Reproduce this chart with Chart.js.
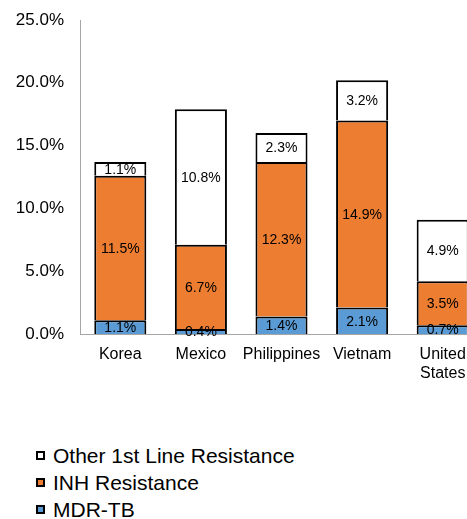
<!DOCTYPE html>
<html>
<head>
<meta charset="utf-8">
<script src="https://cdn.jsdelivr.net/npm/chart.js@4"></script>
<style>
  html, body { margin: 0; padding: 0; background: #fff; overflow: hidden; }
  #wrap { position: relative; width: 490px; height: 400px; }
  #legend { position: absolute; left: 36px; top: 442px; font-family: "Liberation Sans", Arial, sans-serif; font-size: 21px; color: #000; }
  .item { display: flex; align-items: center; height: 27px; white-space: nowrap; }
  .box { width: 5px; height: 5px; border: 2px solid #000; margin-right: 8px; }
</style>
</head>
<body>
<div id="wrap"><canvas id="chart" width="490" height="400"></canvas></div>
<div id="legend"></div>
<script>
// data
const countries = ['Korea', 'Mexico', 'Philippines', 'Vietnam', ['United', 'States']];
const mdrTB = [1.1, 0.4, 1.4, 2.1, 0.7];
const inhResistance = [11.5, 6.7, 12.3, 14.9, 3.5];
const otherFirstLine = [1.1, 10.8, 2.3, 3.2, 4.9];
const yTicks = [0, 5, 10, 15, 20, 25];

const FONT = '"Liberation Sans", Arial, sans-serif';

// value labels centred in each segment
const barLabels = {
  id: 'barLabels',
  afterDatasetsDraw(chart) {
    const ctx = chart.ctx;
    ctx.save();
    ctx.font = '14px ' + FONT;
    ctx.fillStyle = '#000';
    ctx.textAlign = 'center';
    ctx.textBaseline = 'middle';
    chart.data.datasets.forEach((ds, i) => {
      chart.getDatasetMeta(i).data.forEach((bar, j) => {
        const p = bar.getProps(['x', 'y', 'base'], true);
        ctx.fillText(ds.data[j].toFixed(1) + '%', p.x, (p.y + p.base) / 2 + 1);
      });
    });
    ctx.restore();
  }
};

const chart = new Chart(document.getElementById('chart'), {
  type: 'bar',
  data: {
    labels: countries,
    datasets: [
      { label: 'MDR-TB', data: mdrTB, backgroundColor: '#5B9BD5' },
      { label: 'INH Resistance', data: inhResistance, backgroundColor: '#ED7D31' },
      { label: 'Other 1st Line Resistance', data: otherFirstLine, backgroundColor: '#FFFFFF' }
    ].map(ds => Object.assign(ds, {
      borderColor: '#000',
      borderWidth: 2,
      borderSkipped: 'start',
      categoryPercentage: 1,
      barPercentage: 0.646
    }))
  },
  options: {
    responsive: false,
    animation: false,
    layout: { padding: { top: 20, right: 7, left: 0, bottom: 0 } },
    plugins: {
      legend: { display: false },
      tooltip: { enabled: false }
    },
    scales: {
      x: {
        stacked: true,
        grid: { display: false, drawTicks: false },
        border: { color: '#a6a6a6', width: 1 },
        ticks: { color: '#000', font: { family: FONT, size: 16 }, padding: 11, maxRotation: 0, autoSkip: false },
        afterFit: s => { s.height = 66; s.paddingLeft = 0; s.paddingRight = 0; }
      },
      y: {
        stacked: true,
        min: 0,
        max: 25,
        grid: { display: false, drawTicks: false },
        border: { color: '#a6a6a6', width: 1 },
        afterBuildTicks: s => { s.ticks = yTicks.map(v => ({ value: v })); },
        ticks: {
          color: '#000',
          font: { family: FONT, size: 17 },
          padding: 16,
          callback: v => v.toFixed(1) + '%'
        },
        afterFit: s => { s.width = 80; s.paddingTop = 0; s.paddingBottom = 0; }
      }
    }
  },
  plugins: [barLabels]
});

// legend, top item is the top of the stack
const legend = document.getElementById('legend');
chart.data.datasets.slice().reverse().forEach(ds => {
  const item = document.createElement('div');
  item.className = 'item';
  const box = document.createElement('span');
  box.className = 'box';
  box.style.background = ds.backgroundColor;
  item.appendChild(box);
  item.appendChild(document.createTextNode(ds.label));
  legend.appendChild(item);
});
</script>
</body>
</html>
